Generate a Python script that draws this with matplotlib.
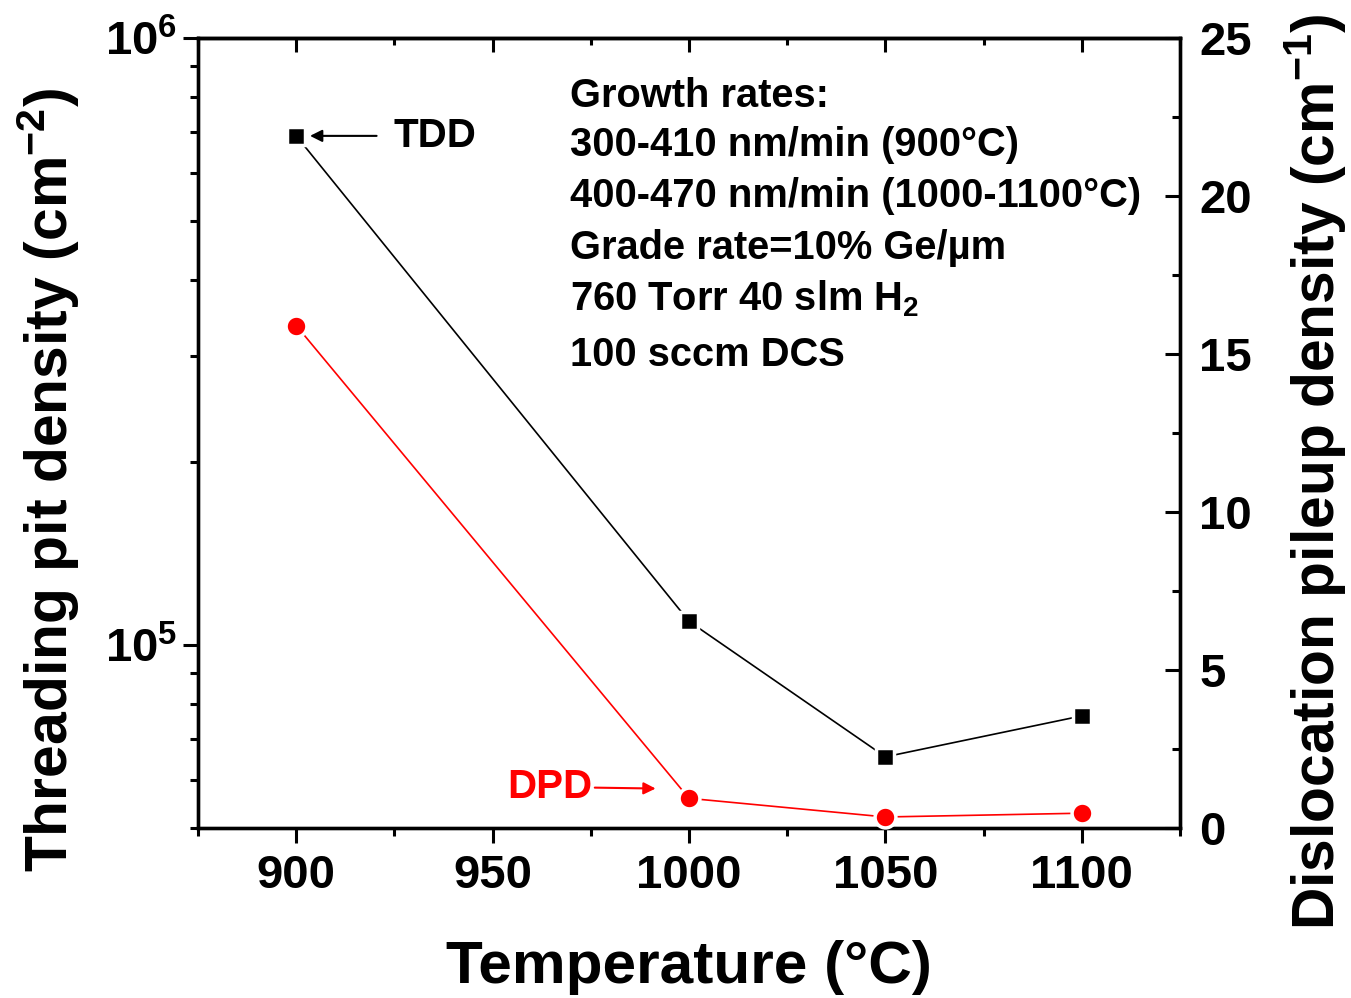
#!/usr/bin/env python3

import matplotlib
matplotlib.use("Agg")
import matplotlib.pyplot as plt
from matplotlib.ticker import LogLocator, MultipleLocator, NullFormatter

# growth temperature and the two measured densities
temperature = [900, 1000, 1050, 1100]
tdd = [6.9e5, 1.095e5, 6.55e4, 7.65e4]      # threading pit density, cm^-2
dpd = [15.9, 0.94, 0.35, 0.47]              # dislocation pileup density, cm^-1

notes = [
    "Growth rates:",
    "300-410 nm/min (900\u00b0C)",
    "400-470 nm/min (1000-1100\u00b0C)",
    "Grade rate=10% Ge/\u00b5m",
    "760 Torr 40 slm H$_\\mathbf{2}$",
    "100 sccm DCS",
]
notes_y = [0.926, 0.864, 0.800, 0.734, 0.670, 0.599]

plt.rcParams["font.family"] = ["Liberation Sans", "DejaVu Sans"]
plt.rcParams["font.weight"] = "bold"
plt.rcParams["axes.labelweight"] = "bold"
plt.rcParams["mathtext.fontset"] = "custom"
plt.rcParams["mathtext.rm"] = "Liberation Sans:bold"
plt.rcParams["mathtext.bf"] = "Liberation Sans:bold"
plt.rcParams["mathtext.default"] = "bf"

fig = plt.figure(figsize=(13.51, 9.98), dpi=100)
ax = fig.add_axes([0.1466, 0.1703, 0.7268, 0.7916])

ax.set_yscale("log")
ax.set_xlim(875, 1125)
ax.set_ylim(5e4, 1e6)

for s in ax.spines.values():
    s.set_linewidth(2.4)

# left log axis, ticks outward
ax.yaxis.set_major_locator(LogLocator(base=10, numticks=10))
ax.yaxis.set_minor_locator(LogLocator(base=10, subs=range(2, 10), numticks=20))
ax.yaxis.set_minor_formatter(NullFormatter())
ax.tick_params(axis="y", which="major", direction="out", length=11, width=2.2,
               labelsize=34, pad=4, right=False)
ax.tick_params(axis="y", which="minor", direction="out", length=5.5, width=2.2,
               right=False)

# bottom axis, ticks outward
ax.xaxis.set_major_locator(MultipleLocator(50))
ax.xaxis.set_minor_locator(MultipleLocator(25))
ax.tick_params(axis="x", which="major", direction="out", length=11, width=2.2,
               labelsize=34, pad=8, top=False)
ax.tick_params(axis="x", which="minor", direction="out", length=6, width=2.2,
               top=False)

# top axis, ticks inward, no labels
top = ax.secondary_xaxis("top")
top.xaxis.set_major_locator(MultipleLocator(50))
top.xaxis.set_minor_locator(MultipleLocator(25))
top.tick_params(which="major", direction="in", length=10, width=2.2, labeltop=False)
top.tick_params(which="minor", direction="in", length=5, width=2.2)
top.spines["top"].set_linewidth(2.4)

# right linear axis for DPD, ticks inward
ax2 = ax.twinx()
ax2.set_ylim(0, 25)
ax2.yaxis.set_major_locator(MultipleLocator(5))
ax2.yaxis.set_minor_locator(MultipleLocator(2.5))
ax2.tick_params(axis="y", which="major", direction="in", length=11, width=2.2,
                labelsize=34, pad=14)
ax2.tick_params(axis="y", which="minor", direction="in", length=5.5, width=2.2)
for s in ax2.spines.values():
    s.set_linewidth(2.4)

ax.plot(temperature, tdd, color="black", lw=1.2, marker="s", ms=13,
        mfc="black", mec="white", mew=2.5, clip_on=False, zorder=3)
ax2.plot(temperature, dpd, color="red", lw=1.2, marker="o", ms=15,
         mfc="red", mec="white", mew=2.5, clip_on=False, zorder=3)

ax.set_xlabel("Temperature (\u00b0C)", fontsize=43.5)
ax.xaxis.set_label_coords(0.5, -0.142)
ax.set_ylabel("Threading pit density (cm$^{-2}$)", fontsize=42.4)
ax.yaxis.set_label_coords(-0.118, 0.4405)
ax2.set_ylabel("Dislocation pileup density (cm$^{-1}$)", fontsize=42.3)
ax2.yaxis.set_label_coords(1.105, 0.4506)

# labels with arrows pointing at each series
ax.annotate("TDD", xy=(903.5, tdd[0]), xytext=(924.7, tdd[0]),
            fontsize=29, va="center", ha="left",
            arrowprops=dict(arrowstyle="-|>", color="black", lw=1.5,
                            mutation_scale=18, shrinkA=10, shrinkB=0))
ax2.annotate("DPD", xy=(991.5, 1.25), xytext=(975.3, 1.3),
             fontsize=29, va="center", ha="right", color="red",
             arrowprops=dict(arrowstyle="-|>", color="red", lw=1.5,
                             mutation_scale=18, shrinkA=0, shrinkB=0))

for line, y in zip(notes, notes_y):
    ax.text(0.379, y, line, transform=ax.transAxes,
            fontsize=28.7, va="center", ha="left")

fig.savefig("out.png", dpi=100)
